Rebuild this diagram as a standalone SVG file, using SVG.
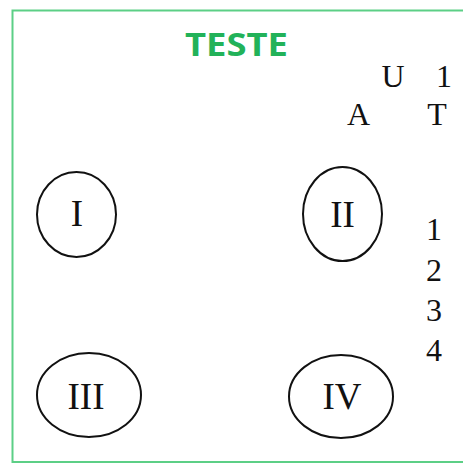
<svg xmlns="http://www.w3.org/2000/svg" width="463" height="466" viewBox="0 0 463 466">
<style>
.frame{fill:none;stroke:#5ccf86;stroke-width:2}
.node ellipse{fill:none;stroke:#111;stroke-width:2}
.lbl{font-family:"Liberation Serif","Times New Roman",serif;fill:#111;text-anchor:middle}
.big{font-size:37px}
.mid{font-size:32px}
.title{font-family:"Open Sans","Liberation Sans",sans-serif;font-weight:bold;font-size:32px;fill:#22b259;text-anchor:middle}
</style>
<rect width="463" height="466" fill="#ffffff"/>
<path class="frame" d="M470 10.5 H12.5 V462 H470"/>
<text class="title" x="236.5" y="56" textLength="103" lengthAdjust="spacingAndGlyphs">TESTE</text>
<g id="header">
<text class="lbl mid" x="393" y="87">U</text>
<text class="lbl mid" x="444" y="87">1</text>
<text class="lbl mid" x="358.5" y="125">A</text>
<text class="lbl mid" x="437" y="125">T</text>
</g>
<g id="numbers">
<text class="lbl mid" x="434" y="240">1</text>
<text class="lbl mid" x="434" y="281">2</text>
<text class="lbl mid" x="434" y="321">3</text>
<text class="lbl mid" x="434" y="361">4</text>
</g>
<g id="node-I" class="node">
<ellipse cx="76.5" cy="214.5" rx="39.5" ry="42.5"/>
<text class="lbl big" x="77" y="226">I</text>
</g>
<g id="node-II" class="node">
<ellipse cx="342.5" cy="214" rx="39.5" ry="47"/>
<text class="lbl big" x="342.5" y="227">II</text>
</g>
<g id="node-III" class="node">
<ellipse cx="89" cy="395" rx="52" ry="42"/>
<text class="lbl big" x="86" y="409">III</text>
</g>
<g id="node-IV" class="node">
<ellipse cx="341" cy="396.5" rx="52" ry="41.5"/>
<text class="lbl big" x="342" y="409">IV</text>
</g>
<g id="connectors"></g>
</svg>
